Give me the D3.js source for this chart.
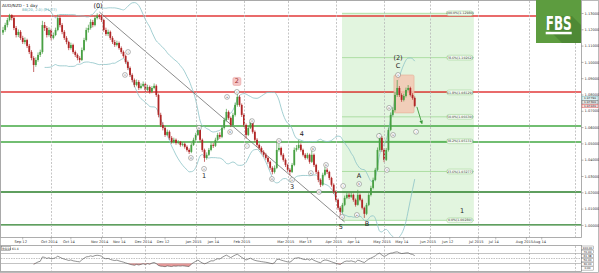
<!DOCTYPE html>
<html>
<head>
<meta charset="utf-8">
<script src="https://cdnjs.cloudflare.com/ajax/libs/d3/7.8.5/d3.min.js"></script>
<style>
  body{margin:0;background:#fff;}
  svg{display:block;font-family:"DejaVu Sans",sans-serif;}
</style>
</head>
<body>
<script>
(function(){

    //daily AUD/NZD bars, 1 Sep 2014 onwards (open = previous close)
    var firstOpen = 1.1180;
    var closes = [1.1196,1.1226,1.1257,1.1288,1.1269,1.1208,1.1165,1.1184,1.1147,1.1122,
        1.1134,1.1098,1.1061,1.1024,1.0981,1.1012,1.1043,1.1061,1.1226,1.1208,
        1.1165,1.1196,1.1147,1.1165,1.1196,1.1269,1.1226,1.1184,1.1147,1.1122,
        1.1085,1.1104,1.1061,1.1043,1.1024,1.1012,1.1073,1.1134,1.1196,1.1208,
        1.1245,1.1226,1.1269,1.1284,1.1276,1.1257,1.1196,1.1171,1.1184,1.1147,
        1.1122,1.1104,1.1116,1.1085,1.1061,1.1036,1.0999,1.0963,1.0920,1.0889,
        1.0859,1.0877,1.0840,1.0853,1.0865,1.0828,1.0846,1.0816,1.0840,1.0853,
        1.0797,1.0675,1.0613,1.0595,1.0552,1.0571,1.0534,1.0509,1.0522,1.0503,
        1.0509,1.0491,1.0497,1.0479,1.0460,1.0448,1.0491,1.0522,1.0552,1.0583,
        1.0522,1.0460,1.0411,1.0430,1.0460,1.0491,1.0485,1.0522,1.0552,1.0540,
        1.0595,1.0644,1.0693,1.0656,1.0613,1.0675,1.0736,1.0785,1.0736,1.0675,
        1.0613,1.0552,1.0595,1.0632,1.0571,1.0522,1.0491,1.0472,1.0448,1.0430,
        1.0411,1.0387,1.0350,1.0325,1.0350,1.0460,1.0472,1.0430,1.0399,1.0368,
        1.0338,1.0325,1.0368,1.0460,1.0472,1.0491,1.0460,1.0430,1.0411,1.0430,
        1.0387,1.0430,1.0368,1.0325,1.0276,1.0246,1.0307,1.0338,1.0325,1.0288,
        1.0246,1.0203,1.0154,1.0105,1.0080,1.0123,1.0166,1.0184,1.0172,1.0184,
        1.0154,1.0123,1.0184,1.0154,1.0105,1.0068,1.0123,1.0184,1.0227,1.0276,
        1.0338,1.0460,1.0534,1.0460,1.0399,1.0460,1.0583,1.0675,1.0705,1.0797,
        1.0840,1.0797,1.0767,1.0791,1.0828,1.0840,1.0797,1.0779,1.0730];
    var highs = [1.1215,1.1240,1.1270,1.1295,1.1292,1.1281,1.1220,1.1199,1.1195,1.1160,
        1.1150,1.1142,1.1110,1.1072,1.1035,1.1028,1.1058,1.1075,1.1252,1.1245,
        1.1220,1.1212,1.1205,1.1180,1.1210,1.1290,1.1280,1.1238,1.1195,1.1158,
        1.1130,1.1118,1.1112,1.1070,1.1052,1.1035,1.1088,1.1148,1.1210,1.1228,
        1.1262,1.1258,1.1285,1.1298,1.1294,1.1290,1.1265,1.1210,1.1198,1.1192,
        1.1158,1.1135,1.1130,1.1125,1.1095,1.1070,1.1045,1.1008,1.0972,1.0930,
        1.0898,1.0892,1.0888,1.0868,1.0880,1.0872,1.0860,1.0855,1.0852,1.0868,
        1.0862,1.0805,1.0688,1.0630,1.0605,1.0585,1.0580,1.0545,1.0535,1.0530,
        1.0520,1.0515,1.0508,1.0505,1.0488,1.0470,1.0502,1.0535,1.0565,1.0600,
        1.0592,1.0530,1.0468,1.0445,1.0472,1.0505,1.0502,1.0535,1.0565,1.0568,
        1.0610,1.0658,1.0712,1.0702,1.0665,1.0688,1.0750,1.0810,1.0795,1.0745,
        1.0685,1.0622,1.0608,1.0650,1.0640,1.0580,1.0532,1.0500,1.0482,1.0458,
        1.0442,1.0420,1.0395,1.0360,1.0365,1.0509,1.0500,1.0480,1.0440,1.0408,
        1.0375,1.0348,1.0380,1.0475,1.0490,1.0522,1.0500,1.0468,1.0440,1.0442,
        1.0438,1.0455,1.0438,1.0375,1.0335,1.0285,1.0320,1.0355,1.0348,1.0332,
        1.0295,1.0255,1.0212,1.0162,1.0115,1.0135,1.0180,1.0200,1.0195,1.0198,
        1.0192,1.0162,1.0215,1.0192,1.0162,1.0112,1.0135,1.0195,1.0240,1.0290,
        1.0350,1.0475,1.0564,1.0545,1.0470,1.0472,1.0598,1.0690,1.0722,1.0815,
        1.0889,1.0852,1.0808,1.0805,1.0842,1.0858,1.0848,1.0808,1.0788];
    var lows = [1.1165,1.1185,1.1212,1.1248,1.1255,1.1195,1.1150,1.1152,1.1135,1.1110,
        1.1108,1.1085,1.1048,1.1010,1.0938,1.0970,1.1001,1.1030,1.1050,1.1190,
        1.1150,1.1155,1.1132,1.1138,1.1158,1.1188,1.1212,1.1170,1.1135,1.1108,
        1.1072,1.1075,1.1050,1.1030,1.1010,1.0995,1.1005,1.1065,1.1125,1.1180,
        1.1198,1.1212,1.1218,1.1260,1.1262,1.1245,1.1185,1.1160,1.1158,1.1135,
        1.1110,1.1092,1.1095,1.1075,1.1050,1.1025,1.0988,1.0950,1.0908,1.0875,
        1.0845,1.0850,1.0828,1.0832,1.0845,1.0815,1.0820,1.0805,1.0808,1.0832,
        1.0785,1.0660,1.0600,1.0580,1.0540,1.0545,1.0522,1.0498,1.0500,1.0492,
        1.0495,1.0480,1.0482,1.0468,1.0450,1.0435,1.0440,1.0485,1.0515,1.0545,
        1.0510,1.0448,1.0387,1.0400,1.0422,1.0452,1.0472,1.0478,1.0515,1.0528,
        1.0532,1.0585,1.0635,1.0645,1.0600,1.0605,1.0665,1.0725,1.0725,1.0662,
        1.0600,1.0530,1.0545,1.0588,1.0560,1.0510,1.0480,1.0460,1.0438,1.0418,
        1.0400,1.0375,1.0338,1.0310,1.0315,1.0342,1.0450,1.0420,1.0388,1.0355,
        1.0325,1.0305,1.0318,1.0360,1.0450,1.0462,1.0450,1.0420,1.0400,1.0402,
        1.0375,1.0380,1.0355,1.0312,1.0262,1.0232,1.0238,1.0298,1.0312,1.0275,
        1.0235,1.0190,1.0142,1.0092,1.0035,1.0070,1.0115,1.0158,1.0160,1.0165,
        1.0142,1.0112,1.0118,1.0145,1.0095,1.0043,1.0060,1.0115,1.0175,1.0218,
        1.0268,1.0330,1.0450,1.0448,1.0385,1.0392,1.0450,1.0575,1.0665,1.0695,
        1.0785,1.0785,1.0755,1.0758,1.0782,1.0820,1.0788,1.0768,1.0722];

    //axis labels
    var priceTicks = [1.13,1.12,1.11,1.10,1.09,1.08,1.07,1.06,1.05,1.04,1.03,1.02,1.01,1.00];
    var monthBars = [22,45,65,88,110,130,152,174,195,217,240,261];
    var timeLabels = ["Sep 12","Oct 2014","Oct 14","Nov 2014","Nov 14","Dec 2014","Dec 12","Jan 2015","Jan 14",
        "Feb 2015","Mar 2015","Mar 13","Apr 2015","Apr 14","May 2015","May 14","Jun 2015","Jun 12",
        "Jul 2015","Jul 14","Aug 2015","Aug 14"];
    var timeBars = [9,22,31,45,54,65,74,88,97,110,130,139,152,161,174,183,195,204,217,225,239,246];

    //drawn levels
    var redLevels = [1.1282, 1.0815];
    var greenLevels = [1.0607, 1.0509, 1.0202, 1.0000];
    var fibLevels = [0, 0.236, 0.382, 0.5, 0.618, 0.786, 1];
    var fibLow = 1.0028, fibHigh = 1.1298, fibFrom = 154.8, fibTo = 215;
    var trendLine = [[44, 1.1306], [156, 1.0018]];
    var targetArrow = [[189, 1.0724], [191.3, 1.0622]];
    var waveBox = {from: 178.5, to: 187.7, top: 1.0920, bottom: 1.0687};

    //wave counts
    var waveLabels = [
        {bar: 43.4, price: 1.1331, text: "(0)"},
        {bar: 91.8, price: 1.0290, text: "1"},
        {bar: 106.8, price: 1.0868, text: "2"},
        {bar: 132, price: 1.0222, text: "3"},
        {bar: 136.5, price: 1.0548, text: "4"},
        {bar: 154.3, price: 0.9972, text: "5"},
        {bar: 162.6, price: 1.0290, text: "A"},
        {bar: 166.2, price: 0.9995, text: "B"},
        {bar: 180.4, price: 1.0965, text: "C"},
        {bar: 180.4, price: 1.1010, text: "(2)"},
        {bar: 209.6, price: 1.0075, text: "1"}
    ];
    var circleLabels = [
        {bar: 57.1, price: 1.1061, text: "i"},
        {bar: 55.7, price: 1.0920, text: "ii"},
        {bar: 85.8, price: 1.0411, text: "iii"},
        {bar: 89.5, price: 1.0595, text: "iv"},
        {bar: 91.8, price: 1.0344, text: "v"},
        {bar: 102.3, price: 1.0785, text: "a"},
        {bar: 103.7, price: 1.0570, text: "b"},
        {bar: 106.8, price: 1.0816, text: "c"},
        {bar: 111.4, price: 1.0484, text: "i"},
        {bar: 113.7, price: 1.0637, text: "ii"},
        {bar: 122.8, price: 1.0282, text: "iii"},
        {bar: 126, price: 1.0515, text: "iv"},
        {bar: 132, price: 1.0276, text: "v"},
        {bar: 140.6, price: 1.0318, text: "a"},
        {bar: 141.6, price: 1.0466, text: "b"},
        {bar: 144.3, price: 1.0202, text: "iii"},
        {bar: 147.5, price: 1.0368, text: "iv"},
        {bar: 154.8, price: 1.0049, text: "v"},
        {bar: 155.3, price: 1.0239, text: "i"},
        {bar: 161.6, price: 1.0061, text: "a"},
        {bar: 162.6, price: 1.0251, text: "b"},
        {bar: 171.7, price: 1.0546, text: "i"},
        {bar: 175.3, price: 1.0337, text: "ii"},
        {bar: 176.3, price: 1.0718, text: "iii"},
        {bar: 178.1, price: 1.0552, text: "iv"},
        {bar: 180.4, price: 1.0920, text: "v"},
        {bar: 188.6, price: 1.0571, text: "i"}
    ];

    //frame dimensions
    var width = 599, height = 273,
        plotRight = 581,
        mainTop = 1, mainBottom = 237,
        rsiTop = 246, rsiBottom = 271;

    var x = d3.scaleLinear().domain([0, 263]).range([3, 3 + 263 * 2.19]);
    var y = d3.scaleLinear().domain([1.00, 1.13]).range([224.9, 13]);
    var yR = d3.scaleLinear().domain([0, 100]).range([rsiBottom, rsiTop]);

    var bars = closes.map(function(c, i){
        return {i: i, o: i ? closes[i - 1] : firstOpen, h: highs[i], l: lows[i], c: c};
    });

    var svg = d3.select("body").append("svg")
        .attr("width", width)
        .attr("height", height);

    svg.append("rect").attr("width", width).attr("height", height).attr("fill", "#fff");

    var defs = svg.append("defs");
    defs.append("clipPath").attr("id", "main").append("rect")
        .attr("x", 0).attr("y", mainTop).attr("width", plotRight).attr("height", mainBottom - mainTop);
    defs.append("marker").attr("id", "arrow")
        .attr("viewBox", "0 0 10 10").attr("refX", 8).attr("refY", 5)
        .attr("markerWidth", 4).attr("markerHeight", 4).attr("orient", "auto")
        .append("path").attr("d", "M0,0L10,5L0,10z").attr("fill", "#3a9a3a");

    var main = svg.append("g").attr("clip-path", "url(#main)");

    //fibonacci projection zone
    main.append("rect")
        .attr("x", x(fibFrom))
        .attr("y", y(fibHigh))
        .attr("width", x(fibTo) - x(fibFrom))
        .attr("height", y(fibLow) - y(fibHigh))
        .attr("fill", "#e2f5df");

    //month grid
    [[mainTop, mainBottom], [rsiTop, rsiBottom]].forEach(function(r){
        svg.selectAll(null).data(monthBars).enter().append("line")
            .attr("x1", function(d){ return Math.round(x(d)) + 0.5; })
            .attr("x2", function(d){ return Math.round(x(d)) + 0.5; })
            .attr("y1", r[0]).attr("y2", r[1])
            .attr("stroke", "#b8b8b8").attr("stroke-width", 0.8)
            .attr("stroke-dasharray", "2,1.5");
    });

    //fib level lines
    var fibRange = fibHigh - fibLow;
    main.selectAll(".fib").data(fibLevels).enter().append("line")
        .attr("x1", x(fibFrom)).attr("x2", x(fibTo))
        .attr("y1", function(d){ return y(fibLow + d * fibRange); })
        .attr("y2", function(d){ return y(fibLow + d * fibRange); })
        .attr("stroke", "#9fd894").attr("stroke-width", 0.8);

    //horizontal support / resistance
    main.selectAll(".red").data(redLevels).enter().append("line")
        .attr("x1", 0).attr("x2", plotRight)
        .attr("y1", function(d){ return y(d); }).attr("y2", function(d){ return y(d); })
        .attr("stroke", "#e23a3a").attr("stroke-width", 1.4);
    main.selectAll(".green").data(greenLevels).enter().append("line")
        .attr("x1", 0).attr("x2", plotRight)
        .attr("y1", function(d){ return y(d); }).attr("y2", function(d){ return y(d); })
        .attr("stroke", function(d, i){ return i < 2 ? "#43a843" : "#2a7f2a"; })
        .attr("stroke-width", 1.4);

    //bollinger bands (20, 2)
    var upper = [], lower = [];
    for (var i = 19; i < closes.length; i++){
        var win = closes.slice(i - 19, i + 1);
        var m = d3.mean(win);
        var sd = Math.sqrt(d3.mean(win, function(v){ return (v - m) * (v - m); }));
        upper.push([i, m + 2 * sd]);
        lower.push([i, m - 2 * sd]);
    }
    var bandLine = d3.line().curve(d3.curveMonotoneX)
        .x(function(d){ return x(d[0]); }).y(function(d){ return y(d[1]); });
    [upper, lower].forEach(function(b){
        main.append("path").attr("d", bandLine(b))
            .attr("fill", "none").attr("stroke", "#8cc3c6").attr("stroke-width", 0.8);
    });

    //trend line
    main.append("line")
        .attr("x1", x(trendLine[0][0])).attr("y1", y(trendLine[0][1]))
        .attr("x2", x(trendLine[1][0])).attr("y2", y(trendLine[1][1]))
        .attr("stroke", "#6e6e6e").attr("stroke-width", 0.8);

    //wave (2) box
    main.append("rect")
        .attr("x", x(waveBox.from)).attr("y", y(waveBox.top))
        .attr("width", x(waveBox.to) - x(waveBox.from))
        .attr("height", y(waveBox.bottom) - y(waveBox.top))
        .attr("rx", 1.5)
        .attr("fill", "#f3c7b3").attr("fill-opacity", 0.85)
        .attr("stroke", "#e3a68c").attr("stroke-width", 0.5);

    //candles
    var candle = main.selectAll(".bar").data(bars).enter().append("g")
        .attr("class", "bar");
    candle.append("line")
        .attr("x1", function(d){ return x(d.i); }).attr("x2", function(d){ return x(d.i); })
        .attr("y1", function(d){ return y(d.h); }).attr("y2", function(d){ return y(d.l); })
        .attr("stroke", function(d){ return d.c >= d.o ? "#4a9c45" : "#b02626"; })
        .attr("stroke-width", 0.7);
    candle.append("rect")
        .attr("x", function(d){ return x(d.i) - 0.9; })
        .attr("width", 1.8)
        .attr("y", function(d){ return y(Math.max(d.o, d.c)); })
        .attr("height", function(d){ return Math.max(0.8, Math.abs(y(d.o) - y(d.c))); })
        .attr("fill", function(d){ return d.c >= d.o ? "#48a043" : "#b02626"; });

    //target arrow
    main.append("line")
        .attr("x1", x(targetArrow[0][0])).attr("y1", y(targetArrow[0][1]))
        .attr("x2", x(targetArrow[1][0])).attr("y2", y(targetArrow[1][1]))
        .attr("stroke", "#3a9a3a").attr("stroke-width", 0.9)
        .attr("marker-end", "url(#arrow)");

    //fib tags
    var tag = main.selectAll(".fibtag").data(fibLevels).enter().append("g")
        .attr("transform", function(d){
            return "translate(" + (x(fibTo) - 14) + "," + y(fibLow + d * fibRange) + ")";
        });
    tag.append("rect")
        .attr("x", -13).attr("y", -2.4).attr("width", 26).attr("height", 4.8).attr("rx", 2)
        .attr("fill", "#f1faef").attr("stroke", "#94cf88").attr("stroke-width", 0.5);
    tag.append("text")
        .attr("text-anchor", "middle").attr("y", 1.1)
        .attr("font-size", 3.2).attr("fill", "#444")
        .text(function(d){
            return (d * 100).toFixed(1) + "%(" + (fibLow + d * fibRange).toFixed(5) + ")";
        });

    //wave 2 highlight
    var w2 = waveLabels[2];
    main.append("rect")
        .attr("x", x(w2.bar) - 4).attr("y", y(w2.price) - 6)
        .attr("width", 8).attr("height", 8).attr("rx", 1.5)
        .attr("fill", "#f6c6c6").attr("stroke", "#e59a9a").attr("stroke-width", 0.5);

    //circled sub-wave labels
    var circ = main.selectAll(".circ").data(circleLabels).enter().append("g")
        .attr("transform", function(d){ return "translate(" + x(d.bar) + "," + y(d.price) + ")"; });
    circ.append("circle").attr("r", 2.4)
        .attr("fill", "#fff").attr("stroke", "#6a6a6a").attr("stroke-width", 0.5);
    circ.append("text").attr("text-anchor", "middle").attr("y", 0.9)
        .attr("font-size", 2.6).attr("fill", "#333")
        .text(function(d){ return d.text; });

    //main wave labels
    main.selectAll(".wave").data(waveLabels).enter().append("text")
        .attr("x", function(d){ return x(d.bar); })
        .attr("y", function(d){ return y(d.price); })
        .attr("text-anchor", "middle")
        .attr("font-size", 6.5)
        .attr("fill", function(d){ return d.text === "2" ? "#a03030" : "#222"; })
        .text(function(d){ return d.text; });

    //title and indicator caption
    svg.append("text").attr("x", 2).attr("y", 6.5)
        .attr("font-size", 4.2).attr("fill", "#222").text("AUD/NZD - 1 day");
    svg.append("text").attr("x", 22).attr("y", 10.5)
        .attr("font-size", 3.6).attr("fill", "#5aa9ae").text("BB(20, 2.0) (21/27)");

    //frames
    svg.append("rect").attr("x", 0.5).attr("y", 0.5).attr("width", plotRight).attr("height", mainBottom)
        .attr("fill", "none").attr("stroke", "#9a9a9a").attr("stroke-width", 0.8);
    svg.append("rect").attr("x", 0.5).attr("y", rsiTop - 0.5).attr("width", plotRight).attr("height", rsiBottom - rsiTop + 1)
        .attr("fill", "none").attr("stroke", "#9a9a9a").attr("stroke-width", 0.8);
    svg.append("rect").attr("x", 0.5).attr("y", 0.5).attr("width", width - 1).attr("height", height - 1)
        .attr("fill", "none").attr("stroke", "#a8a8a8").attr("stroke-width", 0.8);

    //price axis
    var yAxis = d3.axisRight(y).tickValues(priceTicks).tickSize(2).tickFormat(d3.format(".5f"));
    var axis = svg.append("g").attr("transform", "translate(" + (plotRight + 0.5) + ",0)").call(yAxis);
    axis.select(".domain").remove();
    axis.selectAll("line").attr("stroke", "#666").attr("stroke-width", 0.5);
    axis.selectAll("text").attr("font-size", 3.6).attr("fill", "#333").attr("x", 3)
        .attr("font-family", "DejaVu Sans");

    //last bar price tags
    var last = bars[bars.length - 1];
    var priceTags = [
        {v: last.o, fill: "#dff1f2", stroke: "#5aa9ae"},
        {v: last.c, fill: "#e8e8e8", stroke: "#555"},
        {v: last.l, fill: "#fbe0e0", stroke: "#d23a3a"}
    ];
    var pt = svg.selectAll(".ptag").data(priceTags).enter().append("g")
        .attr("transform", function(d, i){ return "translate(" + (plotRight + 1) + "," + (y(last.o) + 0.5 + i * 3.8) + ")"; });
    pt.append("rect").attr("x", 0).attr("y", -1.8).attr("width", 16).attr("height", 3.6)
        .attr("fill", function(d){ return d.fill; })
        .attr("stroke", function(d){ return d.stroke; }).attr("stroke-width", 0.4);
    pt.append("text").attr("x", 8).attr("y", 1).attr("text-anchor", "middle")
        .attr("font-size", 2.9).attr("fill", "#222")
        .text(function(d){ return d.v.toFixed(5); });

    //time axis
    var tAxis = svg.append("g");
    tAxis.selectAll("line").data(timeBars).enter().append("line")
        .attr("x1", function(d){ return x(d); }).attr("x2", function(d){ return x(d); })
        .attr("y1", mainBottom + 0.5).attr("y2", mainBottom + 2.5)
        .attr("stroke", "#777").attr("stroke-width", 0.5);
    tAxis.selectAll("text").data(timeBars).enter().append("text")
        .attr("x", function(d){ return x(d) - 2; })
        .attr("y", mainBottom + 6.3)
        .attr("text-anchor", "middle")
        .attr("font-size", 3.6).attr("fill", "#333")
        .text(function(d, i){ return timeLabels[i]; });

    //RSI(14) panel
    var rsi = [];
    var gain = 0, loss = 0;
    for (var k = 1; k < closes.length; k++){
        var ch = closes[k] - closes[k - 1];
        var g = Math.max(ch, 0), l = Math.max(-ch, 0);
        if (k <= 14){
            gain += g / 14; loss += l / 14;
            if (k === 14) rsi.push([k, 100 - 100 / (1 + gain / loss)]);
        } else {
            gain = (gain * 13 + g) / 14;
            loss = (loss * 13 + l) / 14;
            rsi.push([k, 100 - 100 / (1 + gain / loss)]);
        }
    }
    [70, 50, 30].forEach(function(lv){
        svg.append("line").attr("x1", 1).attr("x2", plotRight)
            .attr("y1", yR(lv)).attr("y2", yR(lv))
            .attr("stroke", "#9a9a9a").attr("stroke-width", 0.6)
            .attr("stroke-dasharray", lv === 50 ? "1.5,1" : null);
    });
    svg.append("path")
        .datum(rsi)
        .attr("d", d3.area()
            .x(function(d){ return x(d[0]); })
            .y0(yR(30))
            .y1(function(d){ return yR(Math.min(d[1], 30)); }))
        .attr("fill", "#e79a9a");
    svg.append("path")
        .datum(rsi)
        .attr("d", d3.line()
            .x(function(d){ return x(d[0]); })
            .y(function(d){ return yR(d[1]); }))
        .attr("fill", "none").attr("stroke", "#4a4a4a").attr("stroke-width", 0.6);

    svg.append("rect").attr("x", 1.5).attr("y", rsiTop + 0.5).attr("width", 9).attr("height", 3.8)
        .attr("fill", "#fff").attr("stroke", "#555").attr("stroke-width", 0.4);
    svg.append("text").attr("x", 2.3).attr("y", rsiTop + 3.5)
        .attr("font-size", 3).attr("fill", "#222").text("RSI14");
    svg.append("text").attr("x", 12).attr("y", rsiTop + 3.5)
        .attr("font-size", 3).attr("fill", "#222").text(rsi[rsi.length - 1][1].toFixed(1));

    var rsiTicks = [100, 70, rsi[rsi.length - 1][1], 50, 30, 0];
    var rt = svg.selectAll(".rtag").data(rsiTicks).enter().append("g")
        .attr("transform", function(d, i){ return "translate(" + (plotRight + 0.5) + "," + (rsiTop + 1.8 + i * 4.1) + ")"; });
    rt.append("rect").attr("y", -1.8).attr("width", 12).attr("height", 3.6)
        .attr("fill", "#fff").attr("stroke", "#666").attr("stroke-width", 0.4);
    rt.append("text").attr("x", 6).attr("y", 1).attr("text-anchor", "middle")
        .attr("font-size", 2.8).attr("fill", "#222")
        .text(function(d){ return d.toFixed(2); });

    //FBS badge
    var logo = svg.append("g").attr("transform", "translate(536,0)");
    logo.append("rect").attr("width", 45).attr("height", 43).attr("fill", "#5d9c3f");
    logo.append("path").attr("d", "M10,16L36,16L45,25L45,43L26,43L10,27Z").attr("fill", "#4e8935");
    logo.append("text").attr("x", 22.7).attr("y", 29.5).attr("text-anchor", "middle")
        .attr("font-family", "Liberation Sans Narrow, DejaVu Sans Condensed, sans-serif")
        .attr("font-weight", "bold").attr("font-size", 19)
        .attr("textLength", 26).attr("lengthAdjust", "spacingAndGlyphs")
        .attr("fill", "#fff").text("FBS");
    logo.append("rect").attr("x", 9.7).attr("y", 31.8).attr("width", 26).attr("height", 2.5).attr("fill", "#fff");

})();
</script>
</body>
</html>
